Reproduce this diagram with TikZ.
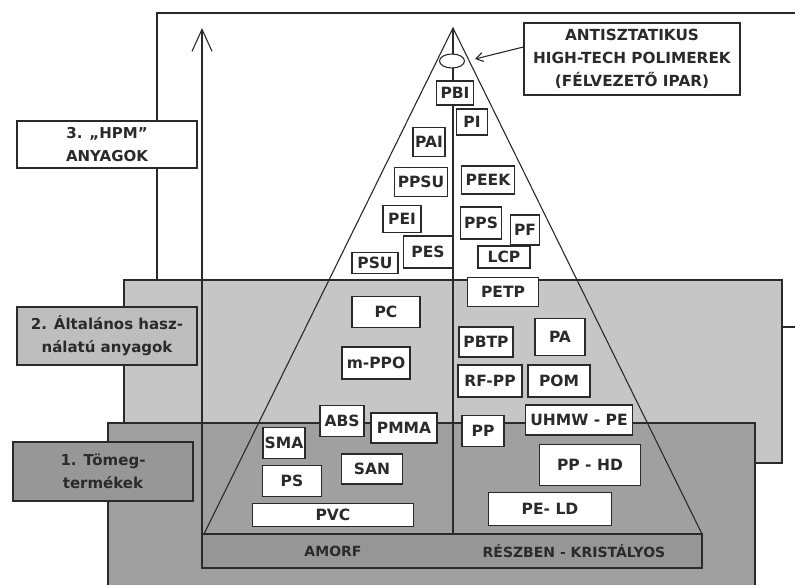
\documentclass[tikz,border=0pt]{standalone}
\usepackage{fontspec}
\setmainfont{DejaVu Sans}
\usetikzlibrary{calc, shapes.geometric, arrows.meta}

\definecolor{lightband}{HTML}{C6C6C6}
\definecolor{midlabel}{HTML}{BEBEBE}
\definecolor{darkband}{HTML}{A0A0A0}
\definecolor{darklabel}{HTML}{979797}
\definecolor{baseband}{HTML}{969696}
\definecolor{ink}{HTML}{2A2A2A}

\newcommand{\polyfont}{\bfseries\fontsize{15.5}{15.5}\selectfont}
\newcommand{\labfont}{\bfseries\fontsize{15}{23}\selectfont}

\begin{document}
\begin{tikzpicture}[x=1pt, y=-1pt,
    frame/.style={draw=ink, line width=1.1pt},
    poly/.style 2 args={draw=ink, fill=white, line width=1.1pt, inner sep=0pt,
        minimum width=#1, minimum height=#2, text=ink, font=\polyfont},
    lab/.style 2 args={draw=ink, line width=1.1pt, inner sep=0pt, align=center,
        minimum width=#1, minimum height=#2, text=ink, font=\labfont},
    tip/.style={-{Straight Barb[length=7pt, width=9pt]}}]
    \useasboundingbox (0,0) rectangle (795,585);
    \clip (0,0) rectangle (795,585);

    \coordinate (T) at (453,28);
    \coordinate (L) at (204,534);
    \coordinate (R) at (702,534);
    \coordinate (M) at ($(L)!0.5!(R)$);
    \coordinate (A0) at (202,568);
    \coordinate (A1) at (202,28);

    \draw[frame, fill=white] (157,13) rectangle (810,327);
    \draw[frame, fill=lightband] (124,280) rectangle (782,463);
    \draw[frame, fill=darkband] (108,423) rectangle (755,600);

    \draw[frame, fill=baseband] (202,534) rectangle (702,568);
    \draw[frame] (L) -- (T) -- (R);
    \draw[draw=ink, line width=1.8pt] (L) -- (R);
    \draw[draw=ink, line width=1.5pt] (T) -- (M);
    \draw[frame, -{Straight Barb[length=22pt, width=20pt]}] (A0) -- (A1);

    \node[text=ink, font=\bfseries\fontsize{14}{14}\selectfont] (amorf) at (333,551) {AMORF};
    \node[text=ink, font=\bfseries\fontsize{14}{14}\selectfont] (kristaly) at (574,551) {RÉSZBEN - KRISTÁLYOS};

    \node[ellipse, draw=ink, fill=white, line width=1.1pt, minimum width=25pt,
        minimum height=14pt, inner sep=0pt] (ell) at (452,61) {};
    \node[lab={216pt}{72pt}, fill=white, font=\bfseries\fontsize{15.3}{23}\selectfont] (anti) at (632,59)
        {ANTISZTATIKUS\\HIGH-TECH POLIMEREK\\(FÉLVEZETŐ IPAR)};
    \draw[frame, tip] ([yshift=12pt]anti.west) -- ([xshift=10pt, yshift=2pt]ell.east);

    \node[lab={180pt}{47pt}, fill=white] (hpm) at (107,144.5) {3. „HPM”\\ANYAGOK};
    \node[lab={180pt}{58pt}, fill=midlabel] (alt) at (107,336) {2. Általános hasz-\\nálatú anyagok};
    \node[lab={180pt}{59pt}, fill=darklabel] (tom) at (103,471.5) {1. Tömeg-\\termékek};

    \node[poly={37pt}{24pt}] (PBI) at (455,93) {PBI};
    \node[poly={31pt}{26pt}] (PI) at (472,122) {PI};
    \node[poly={32pt}{29pt}] (PAI) at (429,142) {PAI};
    \node[poly={53pt}{29pt}] (PPSU) at (421,182) {PPSU};
    \node[poly={53pt}{28pt}] (PEEK) at (488,180) {PEEK};
    \node[poly={38pt}{27pt}] (PEI) at (402,219) {PEI};
    \node[poly={49pt}{32pt}] (PES) at (428,252) {PES};
    \node[poly={46pt}{21pt}] (PSU) at (375,263) {PSU};
    \node[poly={41pt}{32pt}] (PPS) at (481,223) {PPS};
    \node[poly={29pt}{30pt}] (PF) at (525,230) {PF};
    \node[poly={52pt}{22pt}] (LCP) at (504,257) {LCP};
    \node[poly={71pt}{29pt}] (PETP) at (503,292) {PETP};
    \node[poly={68pt}{31pt}] (PC) at (386,312) {PC};
    \node[poly={68pt}{32pt}] (mPPO) at (376,363) {m-PPO};
    \node[poly={54pt}{30pt}] (PBTP) at (486,342) {PBTP};
    \node[poly={50pt}{37pt}] (PA) at (560,337) {PA};
    \node[poly={64pt}{32pt}] (RFPP) at (490,381) {RF-PP};
    \node[poly={62pt}{32pt}] (POM) at (559,381) {POM};
    \node[poly={44pt}{31pt}] (ABS) at (342,421) {ABS};
    \node[poly={66pt}{30pt}] (PMMA) at (404,428) {PMMA};
    \node[poly={42pt}{31pt}] (SMA) at (284,443) {SMA};
    \node[poly={59pt}{31pt}] (PS) at (292,481) {PS};
    \node[poly={61pt}{30pt}] (SAN) at (372,469) {SAN};
    \node[poly={161pt}{23pt}] (PVC) at (333,515) {PVC};
    \node[poly={42pt}{31pt}] (PP) at (483,431) {PP};
    \node[poly={107pt}{30pt}] (UHMW) at (579,420) {UHMW - PE};
    \node[poly={101pt}{41pt}] (PPHD) at (590,465) {PP - HD};
    \node[poly={123pt}{33pt}] (PELD) at (550,509) {PE- LD};
\end{tikzpicture}
\end{document}
